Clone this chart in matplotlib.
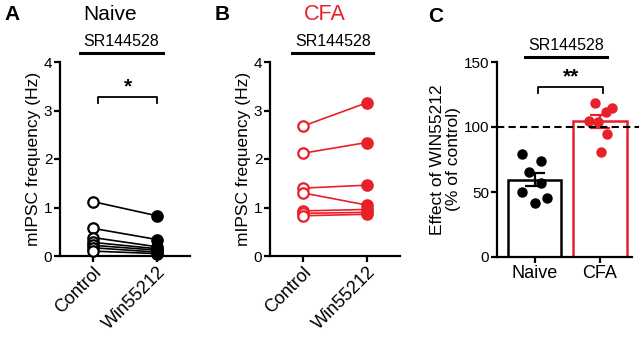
import matplotlib
matplotlib.use("Agg")
import matplotlib.pyplot as plt
import numpy as np

plt.rcParams['font.family'] = ['Liberation Sans', 'DejaVu Sans']

# ---- data ----
conditions = ["Control", "Win55212"]
naive_control = [1.12, 0.57, 0.38, 0.28, 0.22, 0.17, 0.10]
naive_win = [0.83, 0.34, 0.19, 0.15, 0.12, 0.08, 0.05]
cfa_control = [2.68, 2.12, 1.40, 1.30, 0.93, 0.88, 0.83]
cfa_win = [3.16, 2.34, 1.46, 1.05, 0.96, 0.90, 0.86]

groups = ["Naive", "CFA"]
effect_naive = [79.5, 73.8, 65.4, 57.0, 50.0, 45.6, 41.5]
effect_cfa = [118.8, 114.3, 111.7, 105.0, 103.9, 94.5, 80.5]
effect_means = [59.5, 104.4]
effect_sems = [5.0, 5.2]

RED = '#e8202a'
W, H = 640, 338
fig = plt.figure(figsize=(6.4, 3.38), dpi=100)

def rect(l, r, t, b):
    return [l / W, (H - b) / H, (r - l) / W, (b - t) / H]

def fx(x):
    return x / W

def fy(y):
    return (H - y) / H

def style(ax, xlabsize):
    for s in ['top', 'right']:
        ax.spines[s].set_visible(False)
    for s in ['left', 'bottom']:
        ax.spines[s].set_linewidth(1.6)
    ax.tick_params(width=1.6, length=4, labelsize=11, pad=1.5)
    ax.tick_params(axis='x', labelsize=xlabsize)

def paired(ax, ctrl, win, color):
    for c, w in zip(ctrl, win):
        ax.plot([0, 1], [c, w], color=color, lw=1.2, zorder=2, clip_on=False)
    ax.plot(np.zeros(len(ctrl)), ctrl, 'o', ms=7.5, mfc='white', mec=color, mew=1.6,
            zorder=3, clip_on=False)
    ax.plot(np.ones(len(win)), win, 'o', ms=7.5, mfc=color, mec=color, mew=1.6,
            zorder=3, clip_on=False)
    ax.set_xlim(-0.52, 1.52)
    ax.set_ylim(0, 4)
    ax.set_yticks([0, 1, 2, 3, 4])
    ax.set_xticks([0, 1])
    ax.set_xticklabels(conditions, rotation=45, ha='right', rotation_mode='anchor')
    ax.set_ylabel("mIPSC frequency (Hz)", fontsize=12.5, labelpad=2)
    style(ax, 13)

# Panel A
axA = fig.add_axes(rect(60, 190, 62, 256))
paired(axA, naive_control, naive_win, 'black')
axA.plot([-0.2, 1.09], [4.19, 4.19], color='black', lw=2.2, clip_on=False)
axA.plot([0.08, 0.08, 1.0, 1.0], [3.15, 3.28, 3.28, 3.15], color='black', lw=1.3, clip_on=False)
axA.text(0.54, 3.3, "*", ha='center', va='bottom', fontsize=15, fontweight='bold')
fig.text(fx(121), fy(42), "SR144528", ha='center', va='center', fontsize=11.5)
fig.text(fx(110), fy(14), "Naive", ha='center', va='center', fontsize=15)
fig.text(fx(12), fy(15), "A", ha='center', va='center', fontsize=15, fontweight='bold')

# Panel B
axB = fig.add_axes(rect(270, 400, 62, 256))
paired(axB, cfa_control, cfa_win, RED)
axB.plot([-0.17, 1.1], [4.19, 4.19], color='black', lw=2.2, clip_on=False)
fig.text(fx(333), fy(42), "SR144528", ha='center', va='center', fontsize=11.5)
fig.text(fx(325), fy(14), "CFA", ha='center', va='center', fontsize=15.5, color=RED)
fig.text(fx(222), fy(15), "B", ha='center', va='center', fontsize=15, fontweight='bold')

# Panel C
axC = fig.add_axes(rect(497, 632, 62, 257))
xpos = np.arange(len(groups))
axC.bar(xpos, effect_means, width=0.815, color='white', edgecolor=['black', RED],
        linewidth=1.8, zorder=1)
jit_n = [-0.19, 0.09, -0.09, 0.09, -0.19, 0.18, 0.0]
jit_c = [-0.08, 0.18, 0.09, -0.17, -0.03, 0.11, 0.02]
axC.plot(xpos[0] + np.array(jit_n), effect_naive, 'o', ms=6.5, color='black', zorder=3)
axC.plot(xpos[1] + np.array(jit_c), effect_cfa, 'o', ms=6.5, color=RED, zorder=3)
for i, col in enumerate(['black', RED]):
    axC.errorbar(xpos[i], effect_means[i], yerr=effect_sems[i], fmt='none', ecolor=col,
                 elinewidth=1.6, capsize=7, capthick=1.6, zorder=4)
axC.plot([-0.58, 1.6], [100, 100], color='black', lw=1.5, ls=(0, (3.5, 2)), zorder=5,
         clip_on=False)
axC.set_xlim(-0.58, 1.49)
axC.set_ylim(0, 150)
axC.set_yticks([0, 50, 100, 150])
axC.set_xticks(xpos)
axC.set_xticklabels(groups)
axC.set_ylabel("Effect of WIN55212\n(% of control)", fontsize=12.5, labelpad=2,
               linespacing=1.1)
style(axC, 13)
axC.plot([-0.15, 1.11], [153.5, 153.5], color='black', lw=2.2, clip_on=False)
axC.plot([0.05, 0.05, 1.05, 1.05], [126, 130.5, 130.5, 126], color='black', lw=1.3,
         clip_on=False)
axC.text(0.55, 131, "**", ha='center', va='bottom', fontsize=15, fontweight='bold')
fig.text(fx(566), fy(45), "SR144528", ha='center', va='center', fontsize=11.5)
fig.text(fx(436), fy(16), "C", ha='center', va='center', fontsize=15, fontweight='bold')

fig.savefig("out.png", dpi=100)
